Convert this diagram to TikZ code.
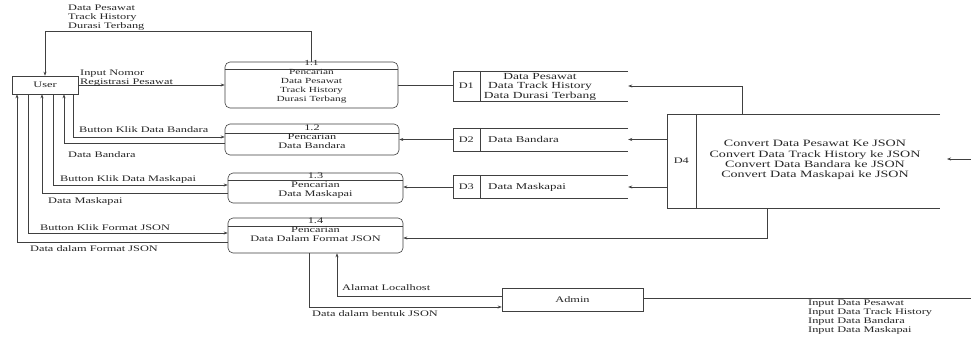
\documentclass[tikz,border=0pt]{standalone}
\usepackage{fontspec}
\setmainfont{Liberation Serif}[FakeStretch=1.45]
\usetikzlibrary{arrows.meta}
\tikzset{
  ln/.style={draw=black!75, line width=0.6pt},
  arr/.style={ln, -{Stealth[length=4pt,width=3pt]}},
  txt/.style={inner sep=0pt, font=\fontsize{8.5}{9}\selectfont, text=black!85},
  proc/.style={ln, rounded corners=5pt, inner sep=0pt},
  box/.style={ln, inner sep=0pt},
  store/.style={inner sep=0pt}
}
\begin{document}
\begin{tikzpicture}[x=1pt,y=-1pt]
\useasboundingbox[fill=white] (0,0) rectangle (971,337);
% external entities
\node[box, minimum width=66pt, minimum height=18pt] (user) at (45,85) {};
\node[txt] (usert) at (45,85) {User};
\node[box, minimum width=141pt, minimum height=23pt] (admin) at (572.5,299.5) {};
\node[txt] (admint) at (572.5,299.5) {Admin};
% processes
\node[proc, minimum width=173pt, minimum height=46pt] (p11) at (311.5,85) {};
\draw[ln] ([yshift=-8pt]p11.north west) -- ([yshift=-8pt]p11.north east);
\node[txt, align=center, anchor=north, font=\fontsize{7.8}{9}\selectfont] (p11t) at (311.5,60.5) {1.1\\Pencarian\\Data Pesawat\\Track History\\Durasi Terbang};
\node[proc, minimum width=174pt, minimum height=31pt] (p12) at (312,139.5) {};
\draw[ln] ([yshift=-10pt]p12.north west) -- ([yshift=-10pt]p12.north east);
\node[txt, align=center, anchor=north] (p12t) at (312,125) {1.2\\Pencarian\\Data Bandara};
\node[proc, minimum width=175pt, minimum height=30pt] (p13) at (315.5,188) {};
\draw[ln] ([yshift=-8pt]p13.north west) -- ([yshift=-8pt]p13.north east);
\node[txt, align=center, anchor=north] (p13t) at (315.5,173) {1.3\\Pencarian\\Data Maskapai};
\node[proc, minimum width=175pt, minimum height=35pt] (p14) at (315.5,235.5) {};
\draw[ln] ([yshift=-9pt]p14.north west) -- ([yshift=-9pt]p14.north east);
\node[txt, align=center, anchor=north] (p14t) at (315.5,218) {1.4\\Pencarian\\Data Dalam Format JSON};
% data stores
\node[store, minimum width=175pt, minimum height=30pt] (d1) at (540.5,86) {};
\draw[ln] (d1.north east) -- (d1.north west) -- (d1.south west) -- (d1.south east);
\draw[ln] ([xshift=27pt]d1.north west) -- ([xshift=27pt]d1.south west);
\node[txt] (d1l) at ([xshift=13.5pt]d1.west) {D1};
\node[txt, align=center, font=\fontsize{9.3}{9.5}\selectfont] (d1t) at (540,86.5) {Data Pesawat\\Data Track History\\Data Durasi Terbang};
\node[store, minimum width=175pt, minimum height=23pt] (d2) at (540.5,139.5) {};
\draw[ln] (d2.north east) -- (d2.north west) -- (d2.south west) -- (d2.south east);
\draw[ln] ([xshift=27pt]d2.north west) -- ([xshift=27pt]d2.south west);
\node[txt] (d2l) at ([xshift=13.5pt]d2.west) {D2};
\node[txt, anchor=west, font=\fontsize{8.9}{9}\selectfont] (d2t) at (488,139.5) {Data Bandara};
\node[store, minimum width=175pt, minimum height=23pt] (d3) at (540.5,187) {};
\draw[ln] (d3.north east) -- (d3.north west) -- (d3.south west) -- (d3.south east);
\draw[ln] ([xshift=27pt]d3.north west) -- ([xshift=27pt]d3.south west);
\node[txt] (d3l) at ([xshift=13.5pt]d3.west) {D3};
\node[txt, anchor=west, font=\fontsize{8.9}{9}\selectfont] (d3t) at (488,187) {Data Maskapai};
\node[store, minimum width=273pt, minimum height=94pt] (d4) at (803.5,161) {};
\draw[ln] (d4.north east) -- (d4.north west) -- (d4.south west) -- (d4.south east);
\draw[ln] ([xshift=29pt]d4.north west) -- ([xshift=29pt]d4.south west);
\node[txt] (d4l) at ([xshift=14.5pt]d4.west) {D4};
\node[txt, align=center, font=\fontsize{9.7}{10.2}\selectfont] (d4t) at (815,160) {Convert Data Pesawat Ke JSON\\Convert Data Track History ke JSON\\Convert Data Bandara ke JSON\\Convert Data Maskapai ke JSON};
% free ends
\coordinate (rin) at (971,159);
\coordinate (d4in) at (947,159);
\coordinate (rout) at (971,298);
% connectors
\draw[arr] (p11.north) -- ++(0,-30) -| (user.north);
\node[txt, align=left, anchor=north west] (l1) at (68,4.5) {Data Pesawat\\Track History\\Durasi Terbang};
\draw[arr] (user.east) -- (p11.west);
\node[txt, align=left, anchor=south west] (l2) at (80,86.5) {Input Nomor\\Registrasi Pesawat};
\draw[ln] (p11.east) -- (p11.east -| d1.west);
\draw[arr] ([xshift=-61.5pt]d4.north) |- (d1.east);
\draw[arr] (d4.west |- d2.east) -- (d2.east);
\draw[arr] (d2.west) -- (d2.west -| p12.east);
\draw[arr] (d4.west |- d3.east) -- (d3.east);
\draw[arr] (d3.west) -- (d3.west -| p13.east);
\draw[arr] ([xshift=-36.5pt]d4.south) |- ([yshift=-2.5pt]p14.east);
\draw[arr] (rin) -- (d4in);
% user <-> processes
\draw[arr] ([xshift=28pt]user.south) |- ([yshift=2.5pt]p12.west);
\node[txt, anchor=west] (l3) at (79,130) {Button Klik Data Bandara};
\draw[arr] ([yshift=-3.5pt]p12.west) -| ([xshift=19pt]user.south);
\node[txt, anchor=west] (l4) at (68,155) {Data Bandara};
\draw[arr] ([xshift=8pt]user.south) |- ([yshift=3pt]p13.west);
\node[txt, anchor=west] (l5) at (60,179) {Button Klik Data Maskapai};
\draw[arr] ([yshift=-5pt]p13.west) -| ([xshift=-3pt]user.south);
\node[txt, anchor=west] (l6) at (48,201) {Data Maskapai};
\draw[arr] ([xshift=-17pt]user.south) |- ([yshift=2.5pt]p14.west);
\node[txt, anchor=west] (l7) at (40,228) {Button Klik Format JSON};
\draw[arr] ([yshift=-6.5pt]p14.west) -| ([xshift=-28pt]user.south);
\node[txt, anchor=west] (l8) at (30,249) {Data dalam Format JSON};
% admin
\draw[arr] ([xshift=-6.5pt]p14.south) |- ([yshift=-7.5pt]admin.west);
\node[txt, anchor=west] (l9) at (312,314) {Data dalam bentuk JSON};
\draw[arr] ([yshift=3.5pt]admin.west) -| ([xshift=21.5pt]p14.south);
\node[txt, anchor=west] (l10) at (342,288) {Alamat Localhost};
\draw[ln] ([yshift=1.5pt]admin.east) -- (rout);
\node[txt, align=left, anchor=north west] (l11) at (808,299.5) {Input Data Pesawat\\Input Data Track History\\Input Data Bandara\\Input Data Maskapai};
\end{tikzpicture}
\end{document}
